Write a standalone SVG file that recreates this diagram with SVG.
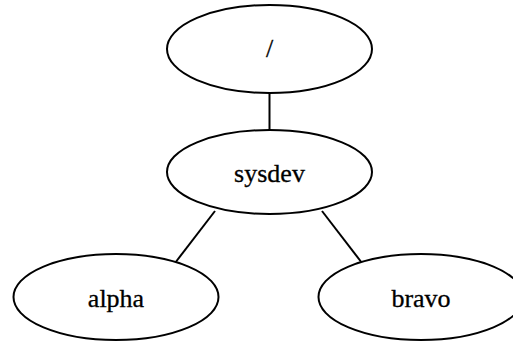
<svg xmlns="http://www.w3.org/2000/svg" width="513" height="341" viewBox="0 0 513 341">
  <style>
    .node ellipse { fill: #ffffff; stroke: #000000; stroke-width: 2; }
    .node text { font-family: "Liberation Serif", "Times New Roman", serif; font-size: 26px; fill: #000000; stroke: #000000; stroke-width: 0.3; text-anchor: middle; }
    .edges line { stroke: #000000; stroke-width: 2; }
  </style>
  <rect width="513" height="341" fill="#ffffff"/>
  <g class="edges">
    <line x1="269.5" y1="92.5" x2="269.5" y2="129"/>
    <line x1="215" y1="211" x2="175" y2="263"/>
    <line x1="322" y1="211" x2="362" y2="263"/>
  </g>
  <g id="root" class="node">
    <ellipse cx="269.5" cy="49" rx="102.5" ry="44"/>
    <text x="269.5" y="57">/</text>
  </g>
  <g id="sysdev" class="node">
    <ellipse cx="269.5" cy="172" rx="102.5" ry="42"/>
    <text x="269.5" y="182">sysdev</text>
  </g>
  <g id="alpha" class="node">
    <ellipse cx="116" cy="297" rx="102.5" ry="43"/>
    <text x="116" y="307">alpha</text>
  </g>
  <g id="bravo" class="node">
    <ellipse cx="421" cy="297" rx="102.5" ry="43"/>
    <text x="421" y="307">bravo</text>
  </g>
</svg>
